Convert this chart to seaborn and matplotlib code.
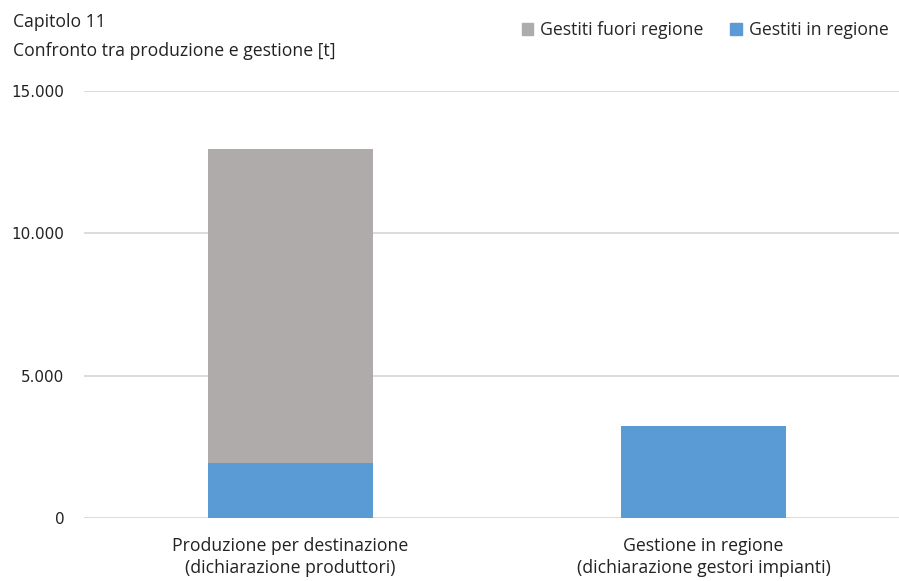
import pandas as pd
import seaborn as sns
import matplotlib.pyplot as plt
from matplotlib.patches import Patch
from matplotlib.ticker import FuncFormatter

# data [t]
categories = ['Produzione per destinazione\n(dichiarazione produttori)',
              'Gestione in regione\n(dichiarazione gestori impianti)']
gestiti_in_regione = [1930, 3225]
gestiti_fuori_regione = [11030, 0]
y_ticks = [0, 5000, 10000, 15000]

df = pd.DataFrame({'categoria': categories,
                   'in': gestiti_in_regione,
                   'fuori': gestiti_fuori_regione})
df['totale'] = df['in'] + df['fuori']

blue = '#5B9BD5'
grey = '#AFABAB'

sns.set_style('white')
plt.rcParams['font.family'] = ['Open Sans', 'DejaVu Sans']

fig = plt.figure(figsize=(8.99, 5.81), dpi=100)
ax = fig.add_axes([84 / 899, 63.3 / 581, 815 / 899, 426.6 / 581])

# stacked bars: total in grey, then the in-region part on top of it
sns.barplot(data=df, x='categoria', y='totale', color=grey, width=0.4,
            saturation=1, linewidth=0, ax=ax)
sns.barplot(data=df, x='categoria', y='in', color=blue, width=0.4,
            saturation=1, linewidth=0, ax=ax)

ax.set_ylim(0, 15000)
ax.set_xlim(-0.5, 1.473)
ax.set_yticks(y_ticks)
ax.yaxis.set_major_formatter(FuncFormatter(lambda v, p: f'{int(v):,}'.replace(',', '.')))
ax.grid(axis='y', color='#D9D9D9', linewidth=1.3)
ax.set_axisbelow(True)
for s in ax.spines.values():
    s.set_visible(False)
ax.set_xlabel('')
ax.set_ylabel('')
ax.tick_params(axis='y', length=0, pad=14, labelsize=10.9, labelcolor='#222222')
ax.tick_params(axis='x', length=0, pad=14, labelsize=12.7, labelcolor='#222222')
for t in ax.get_yticklabels():
    t.set_fontfamily('DejaVu Sans')
for t in ax.get_xticklabels():
    t.set_linespacing(1.25)

fig.text(13 / 899, 1 - 22 / 581, 'Capitolo 11', fontsize=12.7, va='center', color='#222222')
fig.text(13 / 899, 1 - 51 / 581, 'Confronto tra produzione e gestione [t]', fontsize=12.7,
         va='center', color='#222222')

handles = [Patch(color=grey, label='Gestiti fuori regione'),
           Patch(color=blue, label='Gestiti in regione')]
fig.legend(handles=handles, loc='center right', bbox_to_anchor=(1.0, 1 - 30 / 581),
           ncol=2, frameon=False, fontsize=12.7, handlelength=0.65, handleheight=0.65,
           handletextpad=0.4, columnspacing=1.5, borderaxespad=0.2)

plt.savefig('out.png', dpi=100)
